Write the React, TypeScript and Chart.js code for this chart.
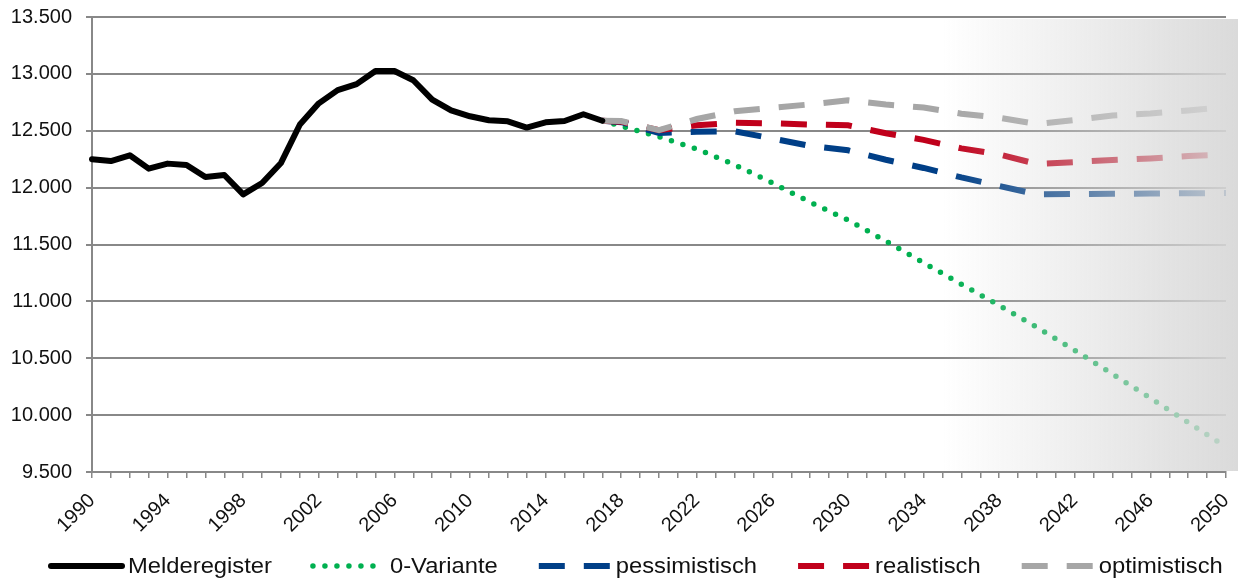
import { useEffect, useRef } from 'react';
import { Chart, registerables } from 'chart.js';

Chart.register(...registerables);

const years = [
  '1990', '1991', '1992', '1993', '1994', '1995', '1996', '1997', '1998', '1999',
  '2000', '2001', '2002', '2003', '2004', '2005', '2006', '2007', '2008', '2009',
  '2010', '2011', '2012', '2013', '2014', '2015', '2016', '2017', '2018', '2019',
  '2020', '2021', '2022', '2023', '2024', '2025', '2026', '2027', '2028', '2029',
  '2030', '2031', '2032', '2033', '2034', '2035', '2036', '2037', '2038', '2039',
  '2040', '2041', '2042', '2043', '2044', '2045', '2046', '2047', '2048', '2049',
  '2050',
];

// Melderegister 1990–2017
const melderegister = [
  12250, 12234, 12284, 12167, 12211, 12199, 12093, 12111, 11941, 12041,
  12217, 12555, 12741, 12857, 12910, 13025, 13025, 12944, 12774, 12680,
  12627, 12592, 12583, 12528, 12574, 12586, 12645, 12588,
];

const projYears = [
  '2017', '2018', '2020', '2022', '2024', '2026', '2028', '2030', '2032',
  '2034', '2036', '2038', '2040', '2042', '2044', '2046', '2048', '2050',
];
const variante0 = [
  12588, 12540, 12447, 12340, 12201, 12041, 11872, 11715, 11530,
  11340, 11150, 10965, 10772, 10570, 10360, 10150, 9935, 9720,
];
const pessimistisch = [
  12588, 12575, 12480, 12492, 12495, 12432, 12366, 12328, 12245,
  12173, 12090, 12015, 11941, 11944, 11946, 11948, 11950, 11953,
];
const realistisch = [
  12588, 12580, 12505, 12548, 12571, 12565, 12555, 12548, 12478,
  12420, 12345, 12292, 12208, 12225, 12243, 12257, 12277, 12290,
];
const optimistisch = [
  12588, 12585, 12506, 12603, 12671, 12702, 12732, 12768, 12730,
  12704, 12650, 12615, 12559, 12594, 12634, 12652, 12678, 12709,
];

const seriesNames = ['Melderegister', '0-Variante', 'pessimistisch', 'realistisch', 'optimistisch'];
const tickYears = ['1990', '1994', '1998', '2002', '2006', '2010', '2014', '2018', '2022', '2026', '2030', '2034', '2038', '2042', '2046', '2050'];

const FONT = '"Liberation Sans", Arial, sans-serif';
const GRID = '#888888';

const fmt = (v: number) => {
  const th = Math.floor(v / 1000);
  const rest = String(Math.round(v % 1000)).padStart(3, '0');
  return th + '.' + rest;
};

const fadePlugin = {
  id: 'fadeOverlay',
  afterDatasetsDraw(chart: any) {
    const { ctx, chartArea, width } = chart;
    const x0 = chartArea.left + (chartArea.right - chartArea.left) * 0.75;
    const x1 = width;
    const g = ctx.createLinearGradient(x0, 0, x1, 0);
    g.addColorStop(0, 'rgba(215,215,215,0)');
    g.addColorStop(1, 'rgba(215,215,215,0.92)');
    ctx.save();
    ctx.fillStyle = g;
    ctx.fillRect(x0, chartArea.top + 2, x1 - x0, chartArea.bottom - chartArea.top - 3);
    ctx.restore();
  },
};

const legendPlugin = {
  id: 'bottomLegend',
  afterDraw(chart: any) {
    const { ctx } = chart;
    const sample = 71;
    const lineY = 566;
    const baseY = 573;
    const stretch = 1.08;
    let x = 51;
    ctx.save();
    ctx.font = '22px ' + FONT;
    ctx.textBaseline = 'alphabetic';
    chart.data.datasets.forEach((ds: any) => {
      ctx.save();
      ctx.strokeStyle = ds.borderColor;
      ctx.lineWidth = ds.borderWidth;
      ctx.setLineDash(ds.borderDash || []);
      ctx.lineCap = ds.borderCapStyle || 'butt';
      ctx.beginPath();
      ctx.moveTo(x, lineY);
      ctx.lineTo(x + sample, lineY);
      ctx.stroke();
      ctx.restore();
      x += sample + 6;
      ctx.save();
      ctx.translate(x, baseY);
      ctx.scale(stretch, 1);
      ctx.fillStyle = '#111111';
      ctx.fillText(ds.label, 0, 0);
      ctx.restore();
      x += ctx.measureText(ds.label).width * stretch + 41;
    });
    ctx.restore();
  },
};

export default function App() {
  const ref = useRef<HTMLCanvasElement | null>(null);

  useEffect(() => {
    if (!ref.current) return;
    const proj = (vals: number[]) => projYears.map((y, i) => ({ x: y, y: vals[i] }));
    const chart = new Chart(ref.current, {
      type: 'line',
      data: {
        labels: years,
        datasets: [
          {
            label: seriesNames[0],
            data: melderegister.map((v, i) => ({ x: years[i], y: v })),
            borderColor: '#000000',
            borderWidth: 6,
            borderCapStyle: 'round',
            borderJoinStyle: 'round',
            pointRadius: 0,
            order: 0,
          },
          {
            label: seriesNames[1],
            data: proj(variante0),
            borderColor: '#00b050',
            borderWidth: 5.5,
            borderDash: [0, 12],
            borderCapStyle: 'round',
            pointRadius: 0,
            order: 4,
          },
          {
            label: seriesNames[2],
            data: proj(pessimistisch),
            borderColor: '#003f87',
            borderWidth: 6,
            borderDash: [26, 19],
            borderCapStyle: 'butt',
            pointRadius: 0,
            order: 3,
          },
          {
            label: seriesNames[3],
            data: proj(realistisch),
            borderColor: '#c0001b',
            borderWidth: 6,
            borderDash: [26, 19],
            borderCapStyle: 'butt',
            pointRadius: 0,
            order: 2,
          },
          {
            label: seriesNames[4],
            data: proj(optimistisch),
            borderColor: '#a6a6a6',
            borderWidth: 6,
            borderDash: [26, 19],
            borderCapStyle: 'butt',
            pointRadius: 0,
            order: 1,
          },
        ] as any,
      },
      options: {
        animation: false,
        responsive: true,
        maintainAspectRatio: false,
        spanGaps: true,
        layout: { padding: { left: 0, right: 12, top: 17, bottom: 48 } },
        plugins: {
          legend: { display: false },
          tooltip: { enabled: false },
        },
        scales: {
          x: {
            type: 'category',
            offset: false,
            afterFit: (s: any) => {
              s.height = 60;
              s.paddingLeft = 0;
              s.paddingRight = 0;
            },
            grid: {
              display: true,
              drawOnChartArea: false,
              drawTicks: true,
              tickLength: 6,
              color: GRID,
              lineWidth: 1.5,
              offset: false,
            },
            border: { display: true, color: GRID, width: 2 },
            ticks: {
              autoSkip: false,
              maxRotation: 45,
              minRotation: 45,
              padding: 11,
              color: '#111111',
              font: { family: FONT, size: 20 },
              callback: function (this: any, val: any) {
                const lbl = this.getLabelForValue(val);
                return tickYears.includes(lbl) ? lbl : '';
              },
            },
          },
          y: {
            min: 9500,
            max: 13500,
            afterFit: (s: any) => {
              s.width = 92;
              s.paddingTop = 0;
              s.paddingBottom = 0;
            },
            grid: { color: GRID, lineWidth: 2, tickLength: 6 },
            border: { display: true, color: GRID, width: 2 },
            ticks: {
              stepSize: 500,
              padding: 14,
              color: '#111111',
              font: { family: FONT, size: 20 },
              callback: (v: any) => fmt(Number(v)),
            },
          },
        },
      } as any,
      plugins: [fadePlugin, legendPlugin],
    });
    return () => chart.destroy();
  }, []);

  return (
    <div style={{ position: 'absolute', left: 0, top: 0, width: 1238, height: 580, background: '#ffffff' }}>
      <canvas ref={ref} />
    </div>
  );
}
